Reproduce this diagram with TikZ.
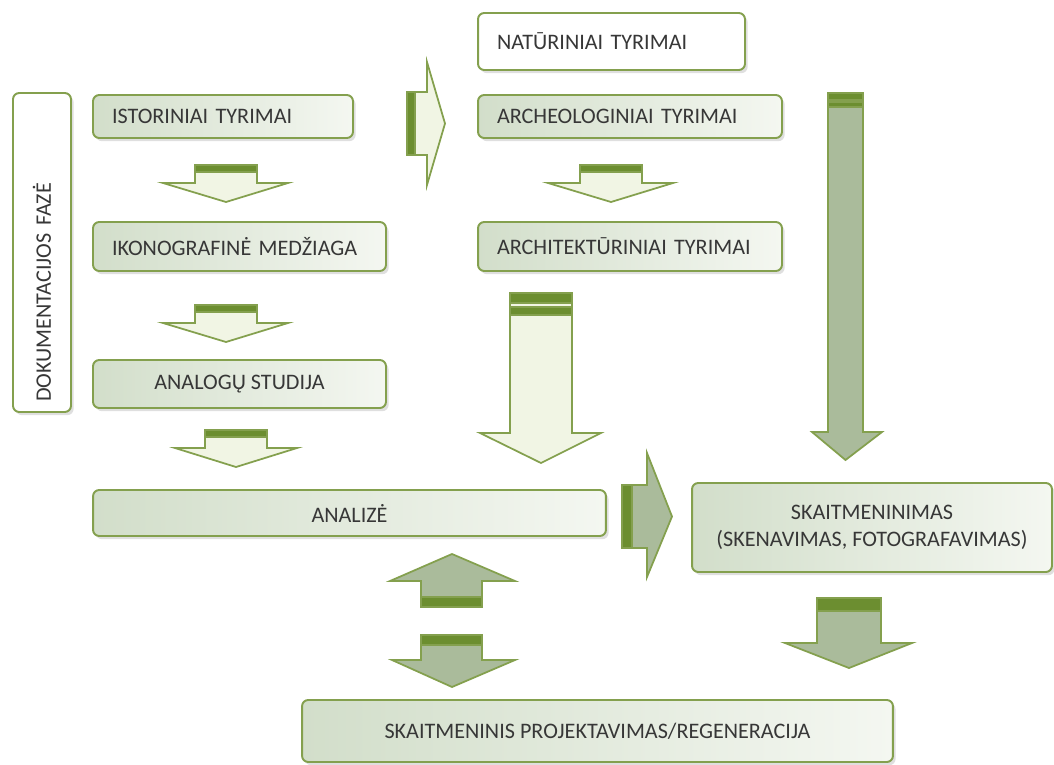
\documentclass[tikz,border=0pt]{standalone}
\usepackage{fontspec}
\setmainfont{Carlito}
\usetikzlibrary{shadows}
\definecolor{lineg}{RGB}{132,160,78}
\definecolor{bandg}{RGB}{108,142,48}
\definecolor{lightfill}{RGB}{241,245,228}
\definecolor{grayfill}{RGB}{170,187,155}
\definecolor{boxL}{RGB}{210,222,202}
\definecolor{boxR}{RGB}{244,247,241}
\definecolor{txt}{RGB}{55,55,55}
\tikzset{
	frame/.style={draw=lineg, line width=1.1pt, rounded corners=3.5pt, text=txt, font=\fontsize{12.6}{15}\selectfont,
		drop shadow={shadow xshift=1.5pt, shadow yshift=-1.8pt, opacity=0.25}},
	box/.style={frame, left color=boxL, right color=boxR},
	whitebox/.style={frame, fill=white},
	% text set from the left edge
	leftbox/.style={box, inner xsep=0.38cm, align=left},
	lightarrow/.style={draw=lineg, line width=1pt, fill=lightfill},
	grayarrow/.style={draw=lineg, line width=1pt, fill=grayfill},
	band/.style={draw=lineg, line width=0.8pt, fill=bandg},
}

\begin{document}
\begin{tikzpicture}[x=0.02cm, y=-0.02cm]
	\useasboundingbox (0,0) rectangle (1054,764);
	
	\node (dok) [whitebox, rotate=90, minimum width=6.38cm, minimum height=1.16cm, inner xsep=0.2cm, text width=5.98cm, align=left] at (42,252.5) {DOKUMENTACIJOS FAZĖ};
	
	\node (ist) [leftbox, minimum width=5.2cm, minimum height=0.86cm, text width=4.44cm] at (223,116.5) {ISTORINIAI TYRIMAI};
	\node (ikon) [leftbox, minimum width=5.86cm, minimum height=0.98cm, text width=5.1cm] at (239.5,246.5) {IKONOGRAFINĖ MEDŽIAGA};
	\node (analog) [box, minimum width=5.86cm, minimum height=0.96cm] at (239.5,384) {ANALOGŲ STUDIJA};
	\node (analize) [box, minimum width=10.26cm, minimum height=0.92cm] at (349.5,513) {ANALIZĖ};
	
	\node (nat) [whitebox, inner xsep=0.38cm, align=left, minimum width=5.34cm, minimum height=1.14cm, text width=4.58cm] at (611.5,41.5) {NATŪRINIAI TYRIMAI};
	\node (arch) [leftbox, minimum width=6.08cm, minimum height=0.86cm, text width=5.32cm] at (630,116.5) {ARCHEOLOGINIAI TYRIMAI};
	\node (archit) [leftbox, minimum width=6.08cm, minimum height=0.98cm, text width=5.32cm] at (630,246.5) {ARCHITEKTŪRINIAI TYRIMAI};
	
	\node (skait) [box, align=center, minimum width=7.2cm, minimum height=1.78cm] at (872,527.5) {SKAITMENINIMAS\\(SKENAVIMAS, FOTOGRAFAVIMAS)};
	\node (proj) [box, minimum width=11.82cm, minimum height=1.24cm] at (597.5,731) {SKAITMENINIS PROJEKTAVIMAS/REGENERACIJA};
	
	% light arrows, left column
	\draw[lightarrow] (195,165) -- (257,165) -- (257,183) -- (288,183) -- (226,202) -- (163,183) -- (195,183) -- cycle;
	\draw[band] (195,165) rectangle (257,172);
	\draw[lightarrow] (195,305) -- (257,305) -- (257,323) -- (288,323) -- (226,342) -- (163,323) -- (195,323) -- cycle;
	\draw[band] (195,305) rectangle (257,312);
	\draw[lightarrow] (205,430) -- (267,430) -- (267,448) -- (297,448) -- (236,467) -- (175,448) -- (205,448) -- cycle;
	\draw[band] (205,430) rectangle (267,437);
	
	% light arrows, middle column
	\draw[lightarrow] (407,92) -- (427,92) -- (427,62) -- (445,123.5) -- (427,185) -- (427,155) -- (407,155) -- cycle;
	\draw[band] (407,92) rectangle (415,155);
	\draw[lightarrow] (580,165) -- (642,165) -- (642,183) -- (673,183) -- (611,202) -- (548,183) -- (580,183) -- cycle;
	\draw[band] (580,165) rectangle (642,172);
	\draw[lightarrow] (510,293) -- (572,293) -- (572,433) -- (601,433) -- (541,463) -- (480,433) -- (510,433) -- cycle;
	\draw[band] (510,293) rectangle (572,303);
	\draw[band] (510,307) rectangle (572,315);
	
	% grey arrows
	\draw[grayarrow] (828,93) -- (863,93) -- (863,432) -- (882,432) -- (845.5,460) -- (812,432) -- (828,432) -- cycle;
	\draw[band] (828,93) rectangle (863,100);
	\draw[band] (828,102) rectangle (863,107);
	\draw[grayarrow] (622,485) -- (647,485) -- (647,453) -- (672,516.5) -- (647,577) -- (647,548) -- (622,548) -- cycle;
	\draw[band] (622,485) rectangle (632,548);
	\draw[grayarrow] (421,607) -- (421,581) -- (390,581) -- (452,554) -- (515,581) -- (482,581) -- (482,607) -- cycle;
	\draw[band] (421,597) rectangle (482,607);
	\draw[grayarrow] (421,635) -- (482,635) -- (482,660) -- (515,660) -- (452,687) -- (392,660) -- (421,660) -- cycle;
	\draw[band] (421,635) rectangle (482,645);
	\draw[grayarrow] (817,598) -- (881,598) -- (881,643) -- (912,643) -- (849,668) -- (785,643) -- (817,643) -- cycle;
	\draw[band] (817,598) rectangle (881,611);
\end{tikzpicture}
\end{document}
